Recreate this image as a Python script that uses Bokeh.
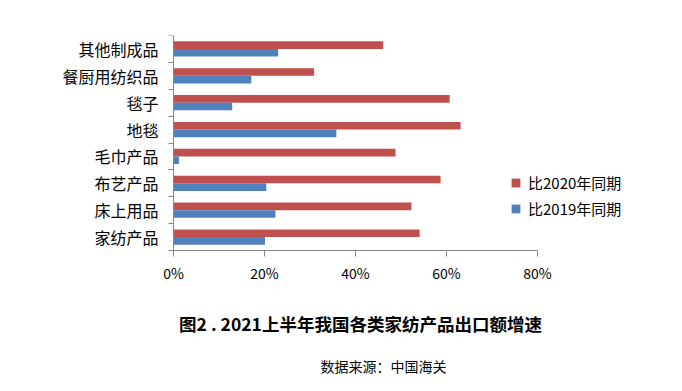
from bokeh.plotting import figure
from bokeh.models import (ColumnDataSource, Range1d, FixedTicker, NumeralTickFormatter,
                          Label, Legend, LegendItem)
from bokeh.transform import dodge
from bokeh.embed import file_html
from bokeh.resources import INLINE

# Data (bottom to top)
categories = ["家纺产品", "床上用品", "布艺产品", "毛巾产品", "地毯", "毯子", "餐厨用纺织品", "其他制成品"]
vs2020 = [0.541, 0.523, 0.587, 0.488, 0.631, 0.607, 0.309, 0.461]
vs2019 = [0.201, 0.224, 0.204, 0.012, 0.358, 0.129, 0.171, 0.230]
x_ticks = [0, 0.2, 0.4, 0.6, 0.8]
series_names = ["比2020年同期", "比2019年同期"]
title_text = "图2 . 2021上半年我国各类家纺产品出口额增速"
source_text = "数据来源：中国海关"

RED = "#C0504D"
BLUE = "#4F81BD"
AXIS = "#868686"
CJK = "Noto Sans CJK SC"

# layout geometry (px)
W, H = 680, 389
BL, BR, BT, BB = 5, 20, 35, 6
X0 = 173            # pixel x of the 0% axis
AX_W = 364          # pixel width of 0..80% axis
BAND = 26.875       # pixel height of one category band
n = len(categories)
frame_w = W - BL - BR
frame_h = H - BT - BB
ppu = AX_W / x_ticks[-1]
x_start = -(X0 - BL) / ppu
x_end = (W - BR - X0) / ppu
y_start = n - frame_h / BAND

pos = [i + 0.5 for i in range(n)]
src = ColumnDataSource(dict(cat=categories, pos=pos, a=vs2020, b=vs2019))

p = figure(width=W, height=H, output_backend="svg", toolbar_location=None,
           x_range=Range1d(x_start, x_end), y_range=Range1d(y_start, n))
p.min_border_left = BL
p.min_border_right = BR
p.min_border_top = BT
p.min_border_bottom = BB
p.outline_line_color = None
p.xgrid.grid_line_color = None
p.ygrid.grid_line_color = None
p.background_fill_color = "white"

bh = 0.286
r1 = p.hbar(y=dodge("pos", 0.143, range=p.y_range), right="a", left=0, height=bh,
            fill_color=RED, line_color=None, source=src)
r2 = p.hbar(y=dodge("pos", -0.143, range=p.y_range), right="b", left=0, height=bh,
            fill_color=BLUE, line_color=None, source=src)

# x axis, fixed at y=0
xa = p.xaxis[0]
xa.fixed_location = 0
xa.bounds = (x_ticks[0], x_ticks[-1])
xa.ticker = FixedTicker(ticks=x_ticks)
xa.formatter = NumeralTickFormatter(format="0%")
xa.axis_line_color = AXIS
xa.major_tick_line_color = AXIS
xa.major_tick_out = 6
xa.major_tick_in = 0
xa.minor_tick_line_color = None
xa.major_label_text_font = CJK
xa.major_label_text_font_size = "14px"
xa.major_label_text_color = "black"
xa.major_label_standoff = 6

# y axis, fixed at x=0
ya = p.yaxis[0]
ya.fixed_location = 0
ya.bounds = (0, n)
ya.ticker = FixedTicker(ticks=pos, minor_ticks=list(range(n + 1)))
ya.major_label_overrides = {pp: c for pp, c in zip(pos, categories)}
ya.axis_line_color = AXIS
ya.major_tick_line_color = None
ya.major_tick_out = 0
ya.major_tick_in = 0
ya.minor_tick_line_color = AXIS
ya.minor_tick_out = 5
ya.minor_tick_in = 0
ya.major_label_text_font = CJK
ya.major_label_text_font_size = "16px"
ya.major_label_text_color = "black"
ya.major_label_standoff = 10

legend = Legend(items=[LegendItem(label=series_names[0], renderers=[r1]),
                       LegendItem(label=series_names[1], renderers=[r2])],
                location=(510 - BL, frame_h - (219 - BT)), orientation="vertical")
legend.border_line_color = None
legend.background_fill_alpha = 0
legend.padding = 0
legend.margin = 0
legend.spacing = 5
legend.glyph_width = 11
legend.glyph_height = 11
legend.label_standoff = 7
legend.label_text_font = CJK
legend.label_text_font_size = "15px"
legend.label_text_color = "black"
p.add_layout(legend)

# title and source below the chart (screen px relative to frame bottom-left)
p.add_layout(Label(x=360 - BL, y=H - BB - 323, x_units="screen", y_units="screen",
                   text=title_text, text_align="center", text_baseline="middle",
                   text_font=CJK, text_font_size="17.5px", text_font_style="bold",
                   text_color="black"))
p.add_layout(Label(x=383 - BL, y=H - BB - 365, x_units="screen", y_units="screen",
                   text=source_text, text_align="center", text_baseline="middle",
                   text_font=CJK, text_font_size="14px", text_color="black"))

open("out.html", "w").write(file_html(p, INLINE))
